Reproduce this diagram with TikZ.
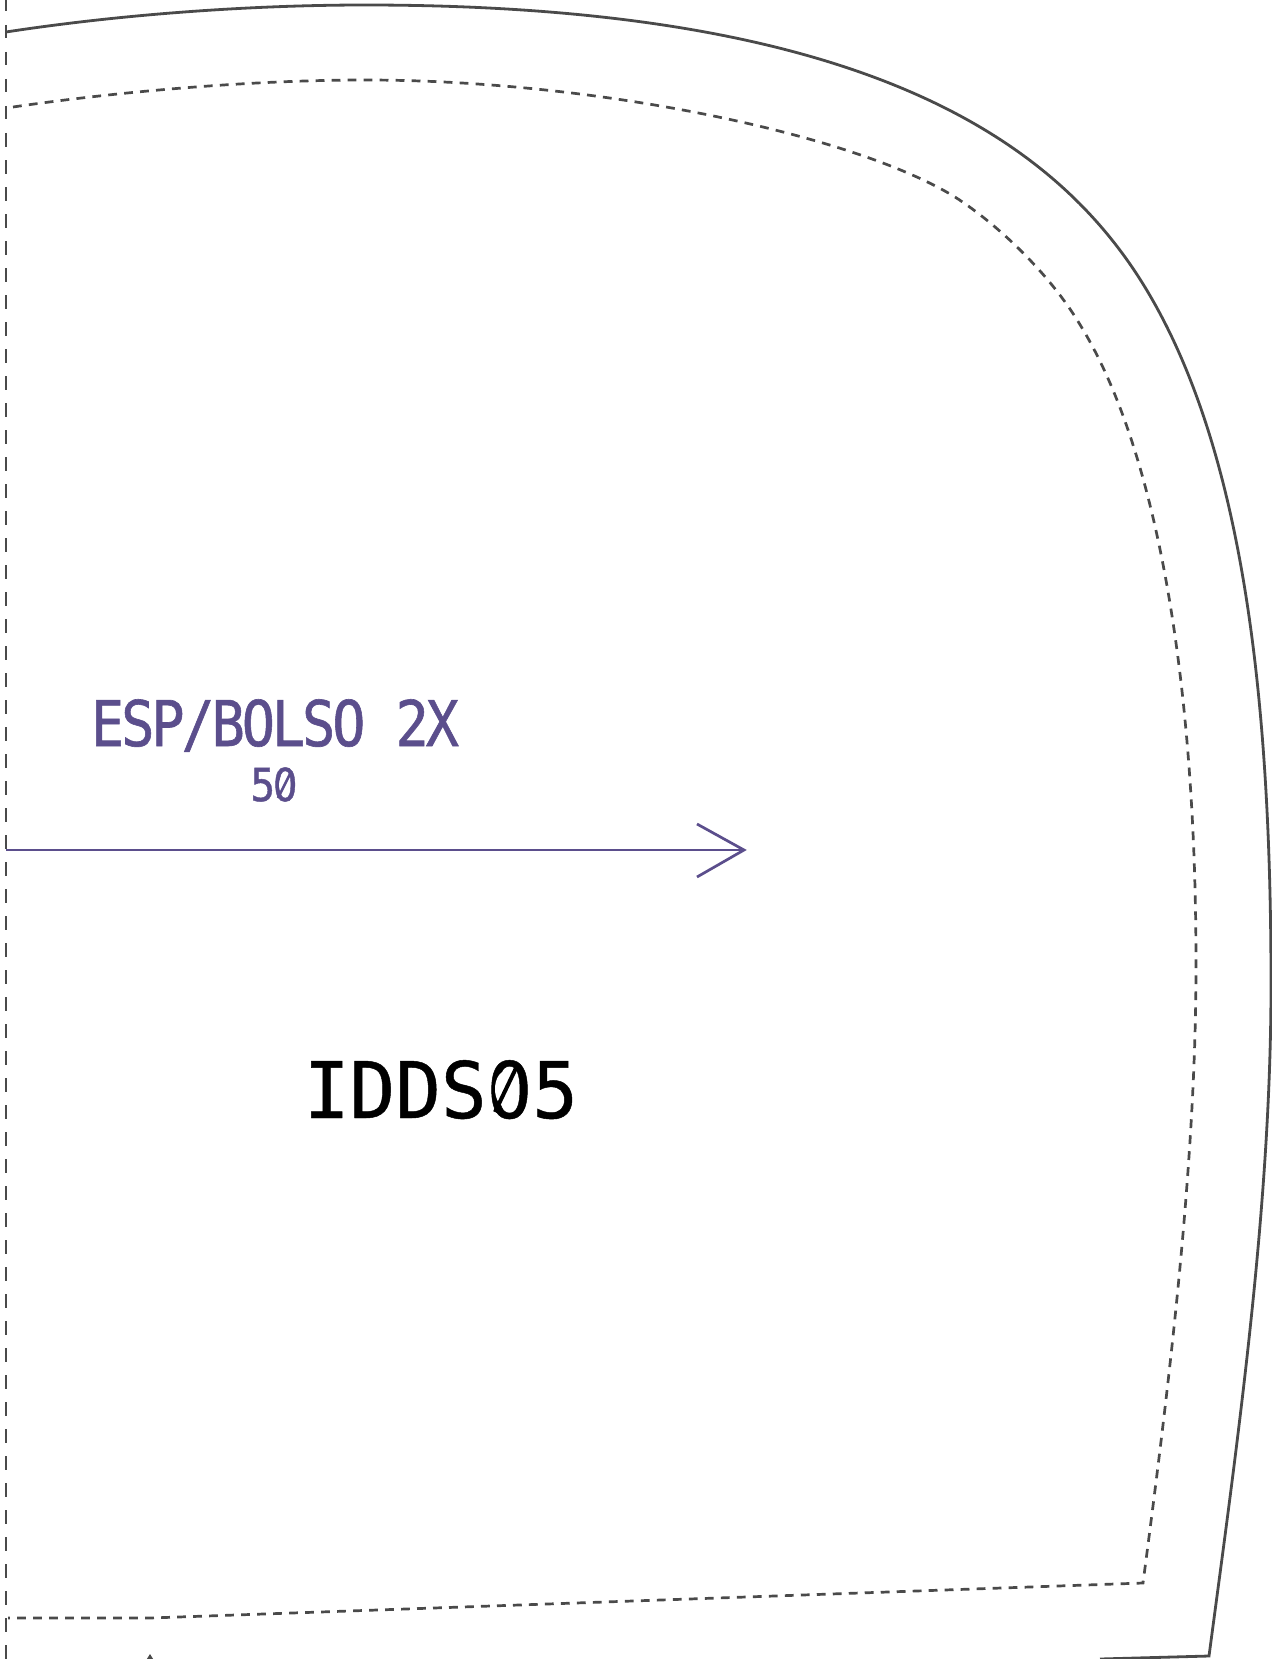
\documentclass[tikz,border=0pt]{standalone}
\usepackage{fontspec}
\setmonofont{DejaVu Sans Mono}
\newfontfamily\labelfont[FakeBold=1.0,LetterSpace=-5.5]{DejaVu Sans Mono}
\newfontfamily\codefont[FakeBold=0.6]{DejaVu Sans Mono}
\definecolor{cutline}{HTML}{4A4A4A}
\definecolor{grain}{HTML}{5B4E8C}
\tikzset{
  cutedge/.style={draw=cutline,line width=1.4pt},
  sewline/.style={draw=cutline,line width=1.35pt,dash pattern=on 4.4pt off 3.6pt},
  foldline/.style={draw=cutline,line width=0.85pt,dash pattern=on 6.75pt off 6.75pt,dash phase=1pt},
  grainline/.style={draw=grain,line width=1.35pt},
}
\begin{document}
\begin{tikzpicture}[x=0.5pt,y=-0.5pt]
\useasboundingbox (0,0) rectangle (1271,1659);
\fill[white] (0,0) rectangle (1271,1659);
\coordinate (ftop) at (6,0);
\coordinate (fbot) at (6,1659);
\draw[foldline] (ftop) -- (fbot);
% outer cut edge
\draw[cutedge] (6,32) .. controls (130,13) and (260,5) .. (365,5)
  .. controls (850,5) and (1042,133) .. (1134,270)
  .. controls (1245,436) and (1271,705) .. (1271,985)
  .. controls (1271,1205) and (1238,1438) .. (1209,1656)
  -- (1100,1659);
% inner sew line
\draw[sewline] (13,107) .. controls (130,90) and (260,80) .. (365,80)
  .. controls (595,80) and (853,134) .. (955,197)
  .. controls (1000,226) and (1050,275) .. (1079,323)
  .. controls (1158,450) and (1196,685) .. (1196,965)
  .. controls (1196,1165) and (1169,1385) .. (1143,1583)
  -- (150,1618) -- (8,1618);
% labels
\node[inner sep=0pt,anchor=base,font=\labelfont\fontsize{31.5pt}{31.5pt}\selectfont,text=grain,xscale=0.875] (lab) at (275,746) {ESP/BOLSO 2X};
\node[inner sep=0pt,anchor=base,font=\labelfont\fontsize{22.7pt}{22.7pt}\selectfont,text=grain,xscale=0.90] (qty) at (274,801) {50};
\node[inner sep=0pt,anchor=base,font=\codefont\fontsize{39pt}{39pt}\selectfont,text=black,xscale=0.973] (code) at (441,1118) {IDDS05};
% slashed zeros
\fill[white] (284,785) ellipse (5 and 10);
\draw[grain,line width=1.3pt] (278,798) -- (291,772);
\fill[white] (506,1089) ellipse (11 and 18);
\draw[black,line width=2pt] (495,1112) -- (517,1066);
% grain line
\coordinate (gs) at (6,850);
\coordinate (gt) at (744,850);
\coordinate (gu) at (697,824);
\coordinate (gd) at (697,877);
\draw[grainline] (gs) -- (gt);
\draw[grainline] (gu) -- (gt) -- (gd);
\fill[cutline] (150,1654) -- (155,1662) -- (145,1662) -- cycle;
\end{tikzpicture}
\end{document}
